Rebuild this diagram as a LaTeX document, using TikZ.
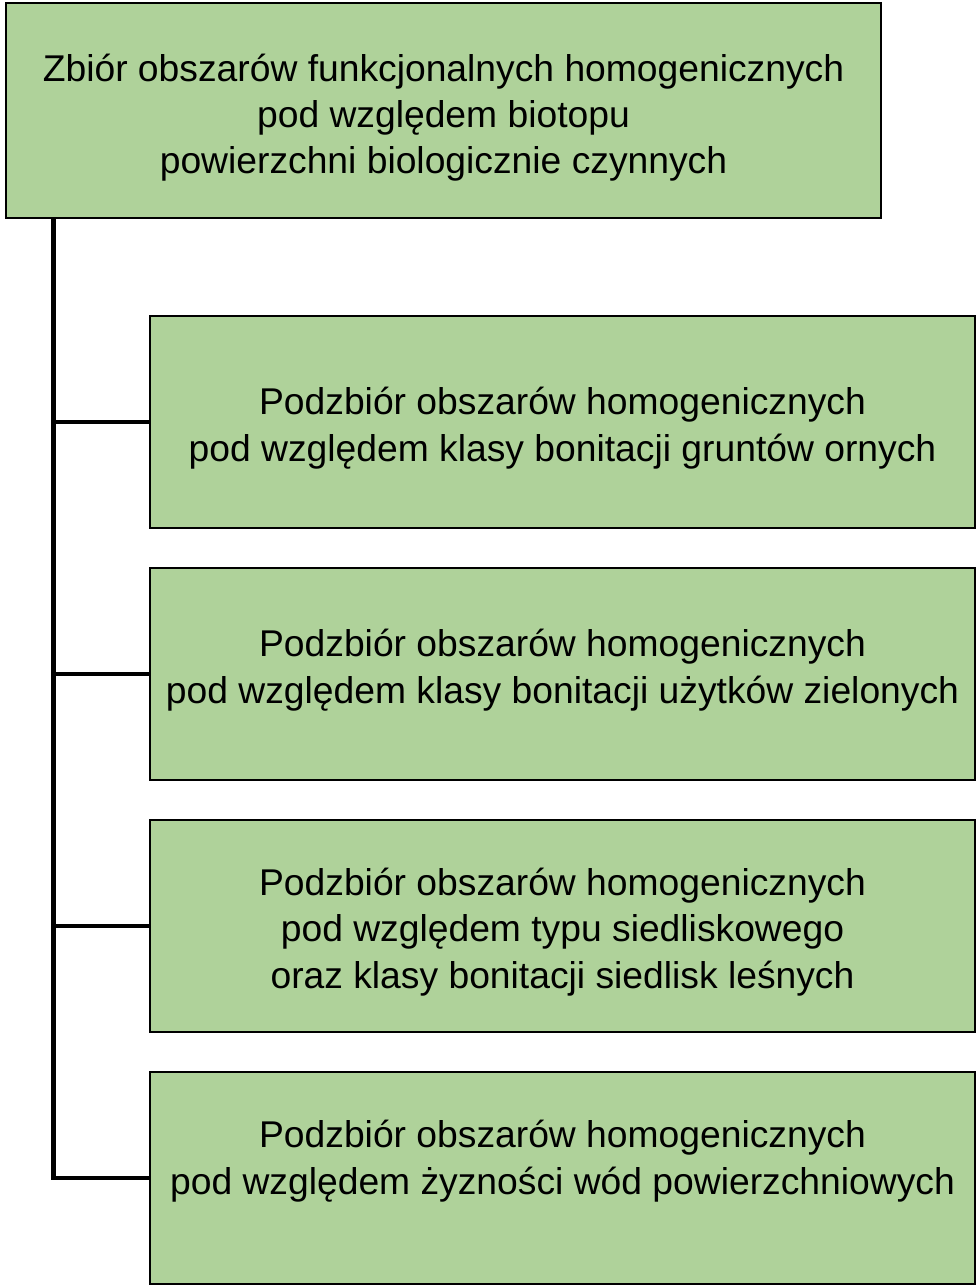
\documentclass[tikz,border=0pt]{standalone}
\usepackage{fontspec}
\setmainfont{Liberation Sans}
\usetikzlibrary{positioning}
\definecolor{leafgreen}{RGB}{175,210,154}
\begin{document}
\begin{tikzpicture}[node distance=0.8cm]
\tikzset{
  mainbox/.style={draw,line width=1.2pt,fill=leafgreen,outer sep=0pt,minimum width=17.5cm,minimum height=4.3cm},
  subbox/.style={draw,line width=1.2pt,fill=leafgreen,outer sep=0pt,minimum width=16.5cm,minimum height=4.24cm},
  boxtext/.style={align=center,anchor=base,font=\fontsize{21.2}{26.4}\selectfont},
  branch/.style={line width=2.8pt}
}
\useasboundingbox (0,0) rectangle (19.52,-25.76);
\node[mainbox] (top) at (8.87,-2.21) {};
\node[subbox] (c1) at (11.25,-8.44) {};
\node[subbox,below=of c1] (c2) {};
\node[subbox,below=of c2] (c3) {};
\node[subbox,below=of c3] (c4) {};
% texts (base = last line)
\node[boxtext] (ttop) at ([yshift=-1.27cm]top.center) {Zbiór obszarów funkcjonalnych homogenicznych\\pod względem biotopu\\powierzchni biologicznie czynnych};
\node[boxtext] (t1) at ([yshift=-0.78cm]c1.center) {Podzbiór obszarów homogenicznych\\pod względem klasy bonitacji gruntów ornych};
\node[boxtext] (t2) at ([yshift=-0.58cm]c2.center) {Podzbiór obszarów homogenicznych\\pod względem klasy bonitacji użytków zielonych};
\node[boxtext] (t3) at ([yshift=-1.24cm]c3.center) {Podzbiór obszarów homogenicznych\\pod względem typu siedliskowego\\oraz klasy bonitacji siedlisk leśnych};
\node[boxtext] (t4) at ([yshift=-0.32cm]c4.center) {Podzbiór obszarów homogenicznych\\pod względem żyzności wód powierzchniowych};
% tree
\coordinate (trunk) at (1.07,0);
\draw[branch] (trunk |- top.south) |- (c4.west);
\foreach \i in {1,2,3}
  \draw[branch] (trunk |- c\i.west) -- (c\i.west);
\end{tikzpicture}
\end{document}
